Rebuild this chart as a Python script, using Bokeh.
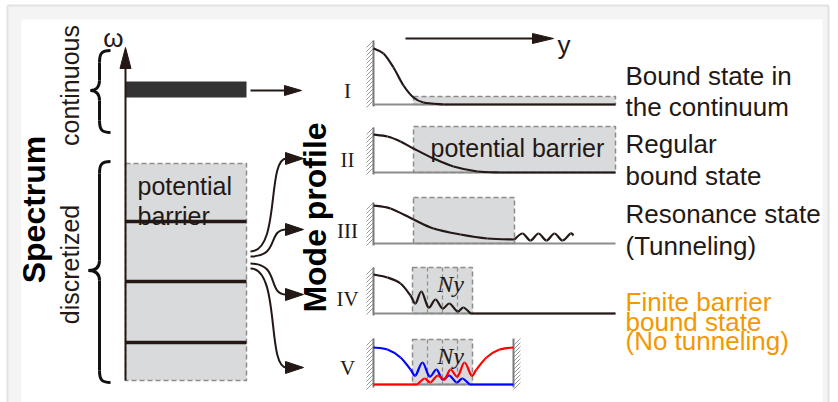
import math
from bokeh.plotting import figure
from bokeh.models import Range1d
from bokeh.core.properties import value
from bokeh.embed import file_html
from bokeh.resources import INLINE

INK = "#231815"
GRAY = "#8c8c8c"
FILL = "#d9dadb"
ORANGE = "#f39800"
SANS = "Liberation Sans"
SERIF = "Liberation Serif"

# ---------------- data (pixel coordinates) ----------------
# spectrum
level_y = [221, 281, 342]
bar_y = [81, 97]
spec_box_x = [125, 246]
spec_box_y = [163, 380]

# mode-profile panels: baselines, barrier boxes
panel_names = ["I", "II", "III", "IV", "V"]
panel_label_y = [90, 159, 230, 298, 367]
base_y = [104, 172, 243, 313, 384]
base_x_end = [615, 615, 615, 615, 513]
wall_top = [40, 127, 202, 267, 338]
wall_bot = [106, 174, 245, 315, 387]
box_left = [413, 413, 413, 412, 412]
box_right = [615, 615, 514, 472, 472]
box_top = [96, 126, 197, 267, 339]
divider_x = [427, 442, 457]

# profile curves
curve_I_x = [373, 383, 393, 403, 413, 423, 443]
curve_I_y = [48, 53, 67, 85, 97, 102, 104]
curve_II_x = [373, 387, 400, 413, 433, 453, 477, 500]
curve_II_y = [134, 136, 141, 148, 158, 166, 171, 172]
curve_III_x = [373, 390, 413, 433, 460, 487, 514]
curve_III_y = [205, 208, 219, 228, 234, 238, 239]
wave_III_x = [514, 522, 530, 538, 546, 554, 562, 570, 573]
wave_III_y = [239, 233, 240, 233, 240, 233, 240, 233, 235]
curve_IV_x = [373, 387, 400, 410, 415, 421, 428, 435, 442, 449, 457, 463, 470]
curve_IV_y = [274, 277, 283, 295, 303, 291, 307, 299, 308, 303, 311, 307, 313]
blue_V_x = [373, 387, 400, 410, 415, 422, 429, 436, 442, 449, 456, 462, 469]
blue_V_y = [347, 349, 357, 369, 375, 362, 376, 369, 379, 375, 382, 378, 384]
red_V_x = [417, 424, 430, 437, 444, 450, 457, 464, 471, 476, 486, 499, 513]
red_V_y = [384, 378, 382, 375, 379, 369, 376, 362, 375, 369, 357, 349, 347]

# curved arrows (start y on box, tip y at panels)
carrow_start_y = [251, 256, 263, 268]
carrow_tip_y = [158, 229, 294, 367]

# right-hand captions
cap_text = ["Bound state in", "the continuum", "Regular", "bound state",
            "Resonance state", "(Tunneling)", "Finite barrier", "bound state",
            "(No tunneling)"]
cap_y = [75, 106, 143, 175, 213, 245, 301, 321, 340]
cap_color = [INK] * 6 + [ORANGE] * 3

# ---------------- figure ----------------
p = figure(width=838, height=402, x_range=Range1d(0, 838), y_range=Range1d(402, 0),
           output_backend="svg", toolbar_location=None, min_border=0,
           x_axis_type=None, y_axis_type=None)
p.grid.visible = False
p.outline_line_color = None
p.background_fill_color = "#ffffff"
p.border_fill_color = "#ffffff"

# frame
p.quad(left=[7], right=[828], top=[5], bottom=[402], fill_color="#f4f4f4", line_color=None)
p.quad(left=[21], right=[822], top=[19], bottom=[402], fill_color="#ffffff", line_color=None)
p.segment(x0=[7, 7, 828], y0=[5, 5, 5], x1=[828, 7, 828], y1=[5, 402, 402],
          line_color="#e2e2e2", line_width=2)


def bez_through(xs, ys):
    n = len(xs)
    out = dict(x0=[], y0=[], x1=[], y1=[], cx0=[], cy0=[], cx1=[], cy1=[])
    for i in range(n - 1):
        a = max(i - 1, 0)
        d = min(i + 2, n - 1)
        out["x0"].append(xs[i]); out["y0"].append(ys[i])
        out["x1"].append(xs[i + 1]); out["y1"].append(ys[i + 1])
        out["cx0"].append(xs[i] + (xs[i + 1] - xs[a]) / 6)
        out["cy0"].append(ys[i] + (ys[i + 1] - ys[a]) / 6)
        out["cx1"].append(xs[i + 1] - (xs[d] - xs[i]) / 6)
        out["cy1"].append(ys[i + 1] - (ys[d] - ys[i]) / 6)
    return out


def head(tx, ty, dx, dy, L, w):
    bx, by = tx - dx * L, ty - dy * L
    px, py = -dy, dx
    return [tx, bx + px * w, bx - px * w], [ty, by + py * w, by - py * w]


heads_x, heads_y = [], []

# ---------------- spectrum ----------------
p.quad(left=[spec_box_x[0]], right=[spec_box_x[1]], top=[spec_box_y[0]], bottom=[spec_box_y[1]],
       fill_color=FILL, line_color=GRAY, line_width=1.5, line_dash="5 3")
p.segment(x0=[spec_box_x[0]] * 3, x1=[spec_box_x[1]] * 3, y0=level_y, y1=level_y,
          line_color=INK, line_width=3.5)
p.quad(left=[spec_box_x[0]], right=[spec_box_x[1]], top=[bar_y[0]], bottom=[bar_y[1]],
       fill_color="#333333", line_color=None)
# omega axis
p.segment(x0=[125], y0=[380], x1=[125], y1=[62], line_color=INK, line_width=2)
hx, hy = head(125, 47, 0, -1, 21, 5.5); heads_x.append(hx); heads_y.append(hy)
# arrow from bar
p.segment(x0=[250], y0=[90], x1=[287], y1=[90], line_color=INK, line_width=2)
hx, hy = head(301, 90, 1, 0, 17, 5); heads_x.append(hx); heads_y.append(hy)
# y arrow
p.segment(x0=[405], y0=[38], x1=[537], y1=[38], line_color=INK, line_width=2)
hx, hy = head(553, 38, 1, 0, 21, 5); heads_x.append(hx); heads_y.append(hy)

# curved arrows
for sy, ty in zip(carrow_start_y, carrow_tip_y):
    p.bezier(x0=[250], y0=[sy], x1=[286], y1=[ty], cx0=[280], cy0=[sy], cx1=[266], cy1=[ty],
             line_color=INK, line_width=2)
    hx, hy = head(303, ty, 1, 0, 18, 6); heads_x.append(hx); heads_y.append(hy)


# braces
def brace(xr, ytop, ybot, xb, xt, ymid):
    segs = dict(x0=[], y0=[], x1=[], y1=[], cx0=[], cy0=[], cx1=[], cy1=[])
    def add(a, b, c, d):
        segs["x0"].append(a[0]); segs["y0"].append(a[1])
        segs["cx0"].append(b[0]); segs["cy0"].append(b[1])
        segs["cx1"].append(c[0]); segs["cy1"].append(c[1])
        segs["x1"].append(d[0]); segs["y1"].append(d[1])
    add((xr, ytop), (xb + 2, ytop), (xb, ytop + 3), (xb, ytop + 12))
    add((xb, ytop + 12), (xb, ytop + 20), (xb, ymid - 20), (xb, ymid - 10))
    add((xb, ymid - 10), (xb, ymid - 3), (xb - 4, ymid), (xt, ymid))
    add((xt, ymid), (xb - 4, ymid), (xb, ymid + 3), (xb, ymid + 10))
    add((xb, ymid + 10), (xb, ymid + 20), (xb, ybot - 20), (xb, ybot - 12))
    add((xb, ybot - 12), (xb, ybot - 3), (xb + 2, ybot), (xr, ybot))
    p.bezier(line_color="#111111", line_width=3, **segs)


brace(110, 50, 132, 99, 90, 90)
brace(110, 161, 382, 99, 88, 270)

# ---------------- profiles ----------------
# barrier boxes
p.quad(left=box_left, right=box_right, top=box_top, bottom=base_y,
       fill_color=FILL, line_color=GRAY, line_width=1.5, line_dash="5 3")
p.segment(x0=divider_x * 2, x1=divider_x * 2,
          y0=[box_top[3]] * 3 + [box_top[4]] * 3, y1=[base_y[3]] * 3 + [base_y[4]] * 3,
          line_color=GRAY, line_width=1.2, line_dash="4 3")
# baselines
p.segment(x0=[373] * 5, x1=base_x_end, y0=base_y, y1=base_y, line_color=GRAY, line_width=2)

# walls with hatching
wall_xs = [373] * 5 + [513]
wall_tops = wall_top + [wall_top[4]]
wall_bots = wall_bot + [wall_bot[4]]
wall_side = [-1] * 5 + [1]
hx0, hy0, hx1, hy1 = [], [], [], []
for wx, wt, wb, sd in zip(wall_xs, wall_tops, wall_bots, wall_side):
    yy = wt
    while yy < wb - 4:
        if sd < 0:
            hx0.append(wx - 7); hy0.append(yy + 7); hx1.append(wx); hy1.append(yy)
        else:
            hx0.append(wx); hy0.append(yy + 7); hx1.append(wx + 7); hy1.append(yy)
        yy += 4
p.segment(x0=hx0, y0=hy0, x1=hx1, y1=hy1, line_color="#9a9a9a", line_width=1)
p.segment(x0=wall_xs, x1=wall_xs, y0=wall_tops, y1=wall_bots, line_color="#7a7a7a", line_width=2)

# curves
for cx, cy, col in [(curve_I_x, curve_I_y, INK), (curve_II_x, curve_II_y, INK),
                    (curve_III_x, curve_III_y, INK), (wave_III_x, wave_III_y, INK),
                    (curve_IV_x, curve_IV_y, INK), (blue_V_x, blue_V_y, "#0000ff"),
                    (red_V_x, red_V_y, "#ff0000")]:
    p.bezier(line_color=col, line_width=2.2, **bez_through(cx, cy))
# flat tails
p.segment(x0=[curve_I_x[-1], curve_II_x[-1], curve_IV_x[-1]], x1=[615, 615, 615],
          y0=[base_y[0], base_y[1], base_y[3]], y1=[base_y[0], base_y[1], base_y[3]],
          line_color=INK, line_width=2.2)
p.segment(x0=[blue_V_x[-1]], x1=[513], y0=[base_y[4]], y1=[base_y[4]], line_color="#0000ff", line_width=2.2)
p.segment(x0=[373], x1=[red_V_x[0]], y0=[base_y[4]], y1=[base_y[4]], line_color="#ff0000", line_width=2.2)

p.patches(xs=heads_x, ys=heads_y, fill_color=INK, line_color=INK, line_width=1)

# ---------------- texts ----------------
p.text(x=[347] * 5, y=panel_label_y, text=panel_names, text_font=value(SERIF),
       text_font_size="21px", text_align="center", text_baseline="middle", text_color=INK)
p.text(x=[450, 450], y=[283, 355], text=["Ny", "Ny"], text_font=value(SERIF),
       text_font_style="italic", text_font_size="24px", text_align="center",
       text_baseline="middle", text_color=INK)
p.text(x=[625] * len(cap_text), y=cap_y, text=cap_text, text_color=cap_color,
       text_font=value(SANS), text_font_size="26px", text_baseline="alphabetic", text_align="left")
p.text(x=[430], y=[147], text=["potential barrier"], text_font=value(SANS), text_font_size="25px",
       text_baseline="alphabetic", text_color=INK)
p.text(x=[137, 137], y=[185, 215], text=["potential", "barrier"], text_font=value(SANS),
       text_font_size="25px", text_baseline="alphabetic", text_color=INK)
p.text(x=[113], y=[37], text=["ω"], text_font=value(SANS), text_font_size="26px",
       text_align="center", text_baseline="alphabetic", text_color=INK)
p.text(x=[557], y=[44], text=["y"], text_font=value(SANS), text_font_size="26px",
       text_baseline="alphabetic", text_color=INK)
# rotated
p.text(x=[69, 69], y=[85, 264], text=["continuous", "discretized"], angle=math.pi / 2,
       text_font=value(SANS), text_font_size="25px", text_align="center",
       text_baseline="alphabetic", text_color=INK)
p.text(x=[33, 314], y=[209, 217], text=["Spectrum", "Mode profile"], angle=math.pi / 2,
       text_font=value(SANS), text_font_size="32px", text_font_style="bold",
       text_align="center", text_baseline="alphabetic", text_color="#000000")

open("out.html", "w").write(file_html(p, INLINE))
